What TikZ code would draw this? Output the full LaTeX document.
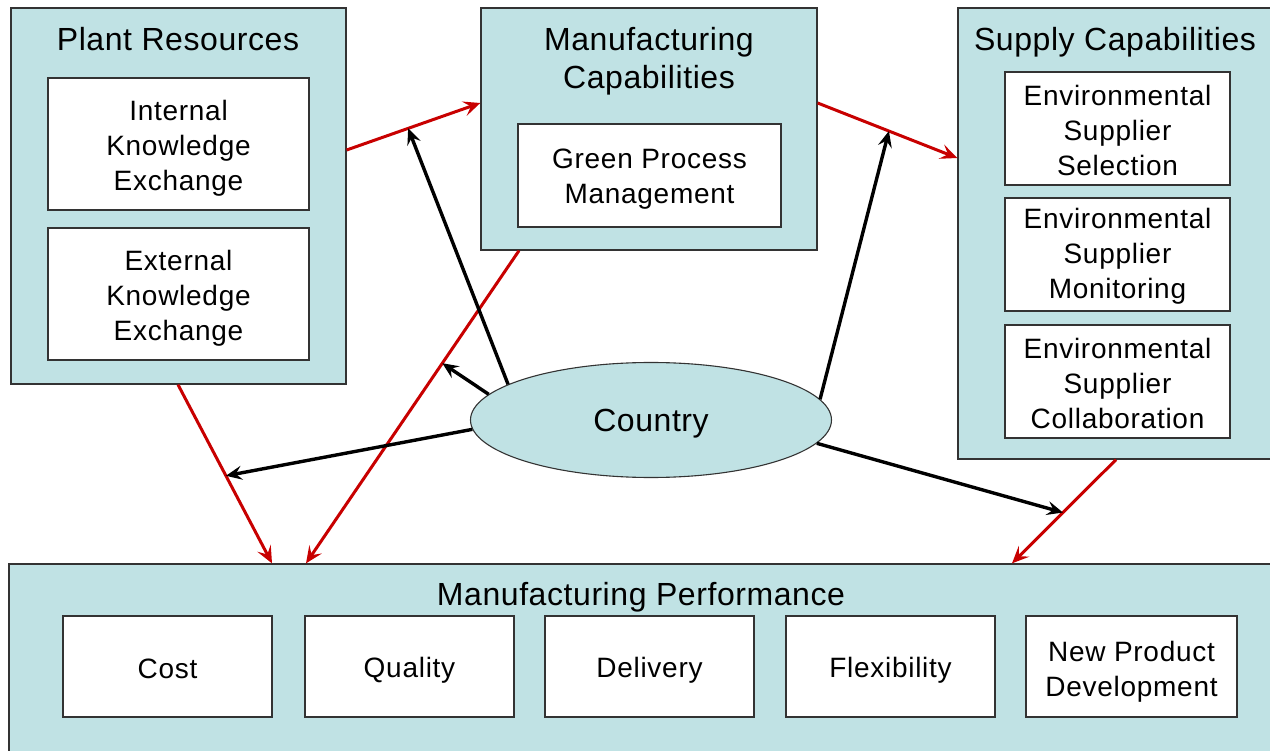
\documentclass[tikz,border=0pt]{standalone}
\usepackage{fontspec}
\setmainfont{Liberation Sans}
\usetikzlibrary{arrows.meta,shapes.geometric,calc}
\definecolor{panel}{RGB}{192,226,228}
\definecolor{linkred}{RGB}{200,0,0}
\tikzset{
  panelbox/.style={draw=black!80, line width=1.3pt, fill=panel, inner sep=0pt},
  itembox/.style={draw=black!80, line width=1.3pt, fill=white, inner sep=0pt},
  itemtext/.style={align=center, inner sep=0pt,
    font=\fontsize{28}{35}\selectfont\addfontfeature{LetterSpace=2.6}},
  title/.style={align=center, inner sep=0pt,
    font=\fontsize{32}{38}\selectfont\addfontfeature{LetterSpace=1.8}},
  redlink/.style={draw=linkred, line width=3pt,
    -{Stealth[length=17pt,width=15pt,inset=7pt]}},
  blacklink/.style={draw=black, line width=3.4pt,
    -{Stealth[length=16pt,width=14pt,inset=6pt]}},
}
\begin{document}
\begin{tikzpicture}[x=1pt,y=-1pt]
\useasboundingbox (0,0) rectangle (1270,751);
\fill[white] (0,0) rectangle (1270,751);
\clip (0,0) rectangle (1270,751);

% ---- Plant resources ----
\node[panelbox, minimum width=335, minimum height=376] (plant) at (178.5,196) {};
\node[title] (plantT) at (178,39) {Plant Resources};
\node[itembox, minimum width=261, minimum height=132] (ike) at (178.5,144) {};
\node[itemtext] (ikeT) at ($(ike.center)+(0,4)$) {Internal\\Knowledge\\Exchange};
\node[itembox, minimum width=261, minimum height=132] (eke) at (178.5,294) {};
\node[itemtext] (ekeT) at ($(eke.center)+(0,4)$) {External\\Knowledge\\Exchange};

% ---- Manufacturing capabilities ----
\node[panelbox, minimum width=336, minimum height=242] (mcap) at (649,129) {};
\node[title] (mcapT) at (649,61) {Manufacturing\\Capabilities};
\node[itembox, minimum width=263, minimum height=103] (gpm) at (649.5,175.5) {};
\node[itemtext] (gpmT) at ($(gpm.center)+(0,4)$) {Green Process\\Management};

% ---- Supply capabilities ----
\node[panelbox, minimum width=318, minimum height=451] (supply) at (1117,233.5) {};
\node[title] (supplyT) at (1115,42) {Supply Capabilities};
\node[itembox, minimum width=225, minimum height=113] (ess) at (1117.5,128.5) {};
\node[itembox, minimum width=225, minimum height=113] (esm) at (1117.5,254.5) {};
\node[itembox, minimum width=225, minimum height=113] (esc) at (1117.5,381.5) {};
\begin{scope}[every node/.append style={font=\fontsize{28}{34}\selectfont\addfontfeature{LetterSpace=2.6}}]
\node[itemtext] (essT) at ($(ess.center)+(0,2)$) {Environmental\\Supplier\\Selection};
\node[itemtext] (esmT) at ($(esm.center)+(0,2)$) {Environmental\\Supplier\\Monitoring};
\node[itemtext] (escT) at ($(esc.center)+(0,2)$) {Environmental\\Supplier\\Collaboration};
\end{scope}

% ---- Manufacturing performance ----
\node[panelbox, minimum width=1264, minimum height=226] (perf) at (641,677) {};
\node[title] (perfT) at (641,597) {Manufacturing Performance};
\foreach \nm/\cx/\w in {cost/167.5/209, qual/409.5/209, deliv/649.5/209, flex/890.5/209, npd/1131.5/211}
  \node[itembox, minimum width=\w, minimum height=101] (\nm) at (\cx,666.5) {};
\node[itemtext] (costT) at ($(cost.center)+(0,2)$) {Cost};
\node[itemtext] (qualT) at ($(qual.center)+(0,4)$) {Quality};
\node[itemtext] (delivT) at ($(deliv.center)+(0,4)$) {Delivery};
\node[itemtext] (flexT) at ($(flex.center)+(0,4)$) {Flexibility};
\node[itemtext] (npdT) at ($(npd.center)+(0,5)$) {New Product\\Development};

% ---- Country ----
\node[ellipse, draw=black!80, line width=1.1pt, fill=panel, inner sep=0pt,
      minimum width=361, minimum height=115] (country) at (651,420) {};
\node[title] (countryT) at ($(country.center)+(0,4)$) {Country};

% ---- Direct links between capability groups ----
\draw[redlink] (plant.east |- 0,150) -- coordinate[pos=0.46] (m1) (mcap.west |- 0,103);
\draw[redlink] (mcap.east |- 0,103) -- coordinate[pos=0.51] (m2) (supply.west |- 0,158);
\draw[redlink] (plant.south -| 178,0) -- coordinate[pos=0.51] (m3) (perf.north -| 272,0);
\draw[redlink] (mcap.south -| 519,0) -- coordinate[pos=0.36] (m4) (perf.north -| 306,0);
\draw[redlink] (supply.south -| 1116,0) -- coordinate[pos=0.51] (m5) (perf.north -| 1012,0);

% ---- Moderating effect of country ----
\draw[blacklink] (country.166) -- (m1);
\draw[blacklink] (country.171) -- (m4);
\draw[blacklink] (country.183) -- (m3);
\draw[blacklink] (country.7) -- (m2);
\draw[blacklink] (country.-8) -- (m5);
\end{tikzpicture}
\end{document}
